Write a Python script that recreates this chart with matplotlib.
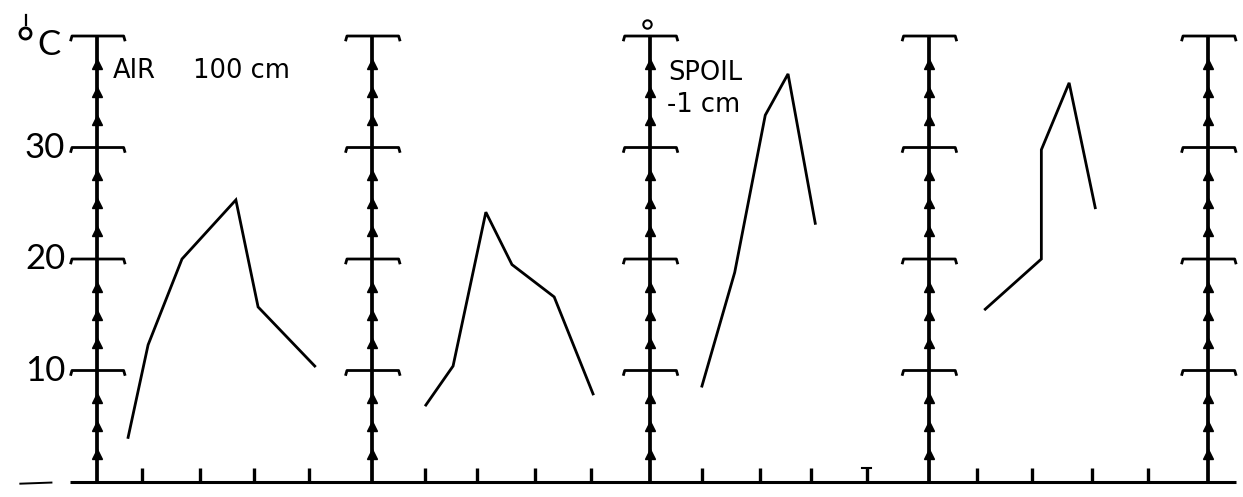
import matplotlib.pyplot as plt

# Значения температуры (°C) по четырём панелям: воздух 100 см и отвал -1 см
air1_x = [0.56, 0.92, 1.53, 2.50, 2.90, 3.92]
air1_t = [4.0, 12.3, 20.0, 25.3, 15.7, 10.4]
air2_x = [5.92, 6.41, 7.00, 7.47, 8.23, 8.93]
air2_t = [6.9, 10.4, 24.2, 19.5, 16.6, 7.9]
spoil1_x = [10.89, 11.48, 12.03, 12.44, 12.93]
spoil1_t = [8.6, 18.8, 32.9, 36.6, 23.2]
spoil2_x = [15.99, 17.0, 17.0, 17.5, 17.97]
spoil2_t = [15.5, 20.0, 29.8, 35.8, 24.6]

# Оси и деления
axis_x = [0, 4.95, 9.95, 14.97, 20.0]
major_t = [10, 20, 30, 40]
minor_t = [2.5, 5, 7.5, 12.5, 15, 17.5, 22.5, 25, 27.5, 32.5, 35, 37.5]
x_ticks = [0.81, 1.85, 2.83, 3.82, 5.90, 6.84, 7.88, 8.89,
           10.89, 11.94, 12.85, 13.86, 15.84, 16.83, 17.91, 18.92]
y_labels = ['10', '20', '30']

plt.rcParams['font.family'] = ['Lato', 'DejaVu Sans']

fig = plt.figure(figsize=(12.43, 4.97), dpi=100)
ax = fig.add_axes([0, 0, 1, 1])
ax.set_xlim(-1.746, 20.63)
ax.set_ylim(-1.345, 43.23)
ax.axis('off')

ink = 'black'

# базовая линия и засечки по времени
ax.plot([-0.49, 20.5], [0, 0], color=ink, lw=2.2, solid_capstyle='butt')
for x in x_ticks:
    ax.plot([x, x], [0, 1.3], color=ink, lw=2.4, solid_capstyle='butt')
ax.plot([13.78, 13.94], [1.3, 1.3], color=ink, lw=1.5)
ax.plot([-1.38, -0.82], [-0.15, -0.05], color=ink, lw=1.4)

# вертикальные шкалы
for x0 in axis_x:
    ax.plot([x0, x0], [0, 40], color=ink, lw=2.7, solid_capstyle='butt')
    for t in major_t:
        ax.plot([x0 - 0.47, x0 - 0.45, x0 + 0.48, x0 + 0.50],
                [t - 0.35, t, t, t - 0.35], color=ink, lw=2.0)
    ax.plot([x0] * len(minor_t), minor_t, linestyle='none', marker='^',
            markersize=7.5, color=ink)

# подписи шкалы
for lab, t in zip(y_labels, [10, 20, 30]):
    ax.text(-0.57, t, lab, fontsize=25, ha='right', va='center', color=ink)
ax.text(-1.08, 38.3, 'C', fontsize=25, ha='left', va='baseline', color=ink)
ax.plot([-1.30], [40.3], marker='o', markersize=8, markerfacecolor='white',
        markeredgecolor=ink, markeredgewidth=2)
ax.plot([-1.27, -1.27], [41.0, 41.9], color=ink, lw=1.6)
ax.plot([9.90], [41.1], marker='o', markersize=6, markerfacecolor='white',
        markeredgecolor=ink, markeredgewidth=1.5)

lab_font = dict(family='DejaVu Sans', fontsize=18.5, ha='left',
                va='baseline', color=ink)
ax.text(0.29, 36.2, 'AIR', **lab_font)
ax.text(1.73, 36.2, '100 cm', **lab_font)
ax.text(10.28, 36.05, 'SPOIL', **lab_font)
ax.text(10.26, 33.2, '-1 cm', **lab_font)

# кривые температуры
for xs, ts in [(air1_x, air1_t), (air2_x, air2_t),
               (spoil1_x, spoil1_t), (spoil2_x, spoil2_t)]:
    ax.plot(xs, ts, color=ink, lw=2.0, solid_joinstyle='miter')

fig.savefig('out.png', dpi=100, facecolor='white')
